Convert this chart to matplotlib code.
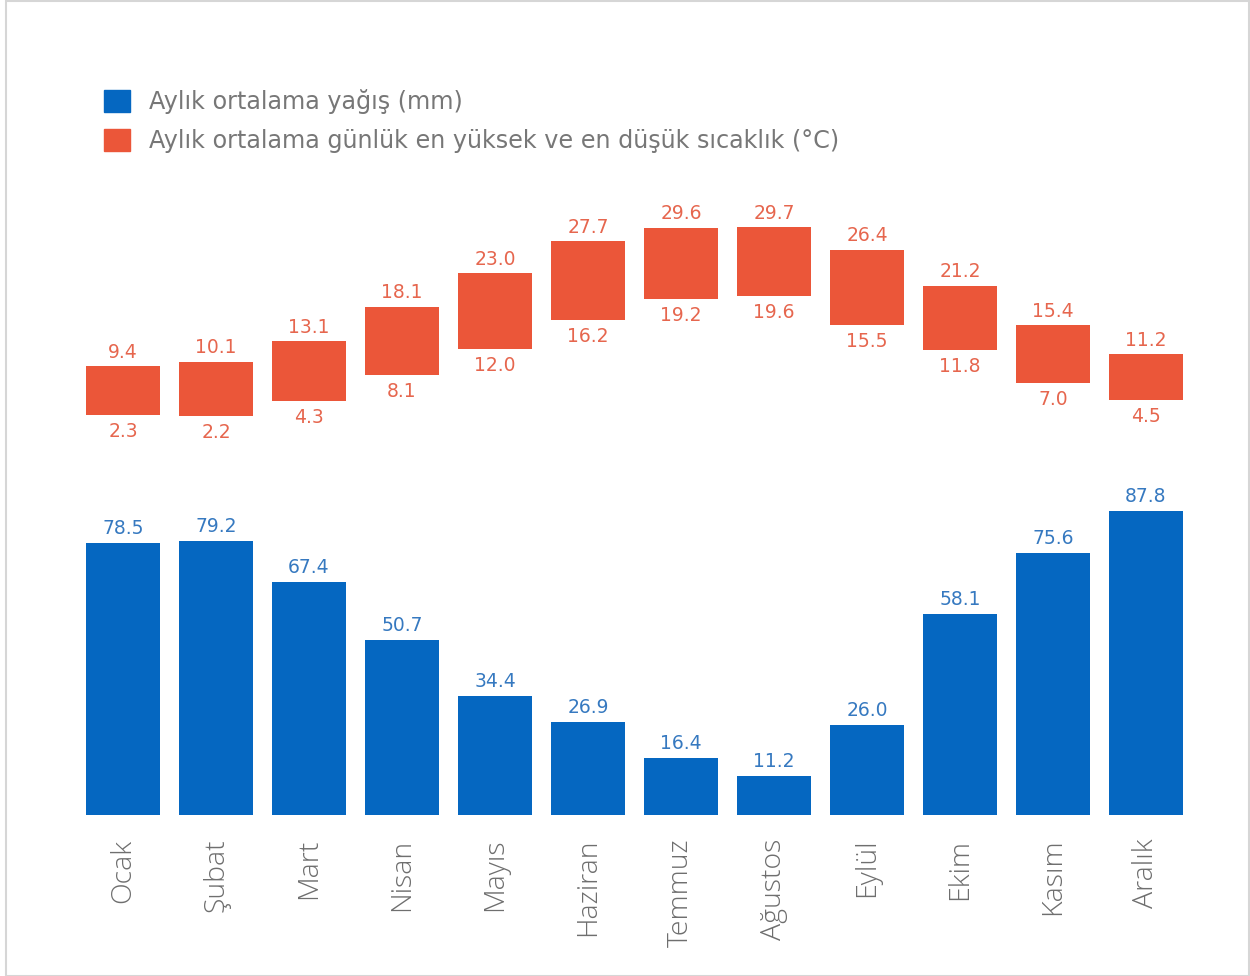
import matplotlib
matplotlib.use("Agg")
import matplotlib.pyplot as plt
import matplotlib.patches as mpatches
import numpy as np

MONTHS = ["Ocak", "Şubat", "Mart", "Nisan", "Mayıs", "Haziran",
          "Temmuz", "Ağustos", "Eylül", "Ekim", "Kasım", "Aralık"]
RAIN = [78.5, 79.2, 67.4, 50.7, 34.4, 26.9, 16.4, 11.2, 26.0, 58.1, 75.6, 87.8]
T_HIGH = [9.4, 10.1, 13.1, 18.1, 23.0, 27.7, 29.6, 29.7, 26.4, 21.2, 15.4, 11.2]
T_LOW = [2.3, 2.2, 4.3, 8.1, 12.0, 16.2, 19.2, 19.6, 15.5, 11.8, 7.0, 4.5]

BLUE = "#0567c1"
BLUE_TXT = "#3679c0"
RED = "#eb5639"
RED_TXT = "#e6664e"
GREY_TXT = "#777777"

W, H = 1250, 976
fig = plt.figure(figsize=(W / 100, H / 100), dpi=100)
fig.patch.set_facecolor("white")

# thin frame around the card
fig.patches.append(mpatches.Rectangle((6 / W, 0), (W - 7) / W, (H - 1) / H,
                                      transform=fig.transFigure, fill=False,
                                      edgecolor="#d6d6d6", lw=1.5))

def px_axes(left, right, y_base, y_top):
    # pixel box (top-left origin) -> figure fraction
    return fig.add_axes([left / W, (H - y_base) / H,
                         (right - left) / W, (y_base - y_top) / H])

x = np.arange(len(MONTHS))
bw = 0.785

# precipitation
RAIN_MAX = 95
ax_r = px_axes(76.5, 1192.5, 815, 815 - RAIN_MAX * 3.46)
ax_r.bar(x, RAIN, width=bw, color=BLUE)
ax_r.set_xlim(-0.5, 11.5)
ax_r.set_ylim(0, RAIN_MAX)
for xi, v in zip(x, RAIN):
    ax_r.annotate(f"{v:.1f}", (xi, v), xytext=(0, 5), textcoords="offset pixels",
                  ha="center", va="bottom", fontsize=13.5, color=BLUE_TXT)
ax_r.set_yticks([])
ax_r.set_xticks(x)
ax_r.set_xticklabels(MONTHS, rotation=90, fontsize=20.5, color="#6e6e6e",
                     family=["Open Sans", "DejaVu Sans"], fontweight="light",
                     va="top")
ax_r.tick_params(axis="x", length=0, pad=17)
for sp in ax_r.spines.values():
    sp.set_visible(False)

# temperature range boxes
T_MAX = 32
T_PX = 6.85
ax_t = px_axes(76.5, 1192.5, 415 + 2.3 * T_PX, 415 + 2.3 * T_PX - T_MAX * T_PX)
lo = np.array(T_LOW)
hi = np.array(T_HIGH)
ax_t.bar(x, hi - lo, bottom=lo, width=bw, color=RED)
ax_t.set_xlim(-0.5, 11.5)
ax_t.set_ylim(0, T_MAX)
for xi, h, l in zip(x, T_HIGH, T_LOW):
    ax_t.annotate(f"{h:.1f}", (xi, h), xytext=(0, 4.5), textcoords="offset pixels",
                  ha="center", va="bottom", fontsize=13.5, color=RED_TXT)
    ax_t.annotate(f"{l:.1f}", (xi, l), xytext=(0, -7), textcoords="offset pixels",
                  ha="center", va="top", fontsize=13.5, color=RED_TXT)
ax_t.axis("off")

handles = [mpatches.Patch(color=BLUE, label="Aylık ortalama yağış (mm)"),
           mpatches.Patch(color=RED, label="Aylık ortalama günlük en yüksek ve en düşük sıcaklık (°C)")]
leg = fig.legend(handles=handles, loc="upper left",
                 bbox_to_anchor=(104 / W, 1 - 89 / H), frameon=False,
                 prop={"family": "DejaVu Sans", "size": 17.2},
                 handlelength=1.08, handleheight=1.08, handletextpad=0.8,
                 labelspacing=0.62, borderpad=0, borderaxespad=0)
for t in leg.get_texts():
    t.set_color(GREY_TXT)

fig.savefig("out.png", dpi=100, facecolor="white")
